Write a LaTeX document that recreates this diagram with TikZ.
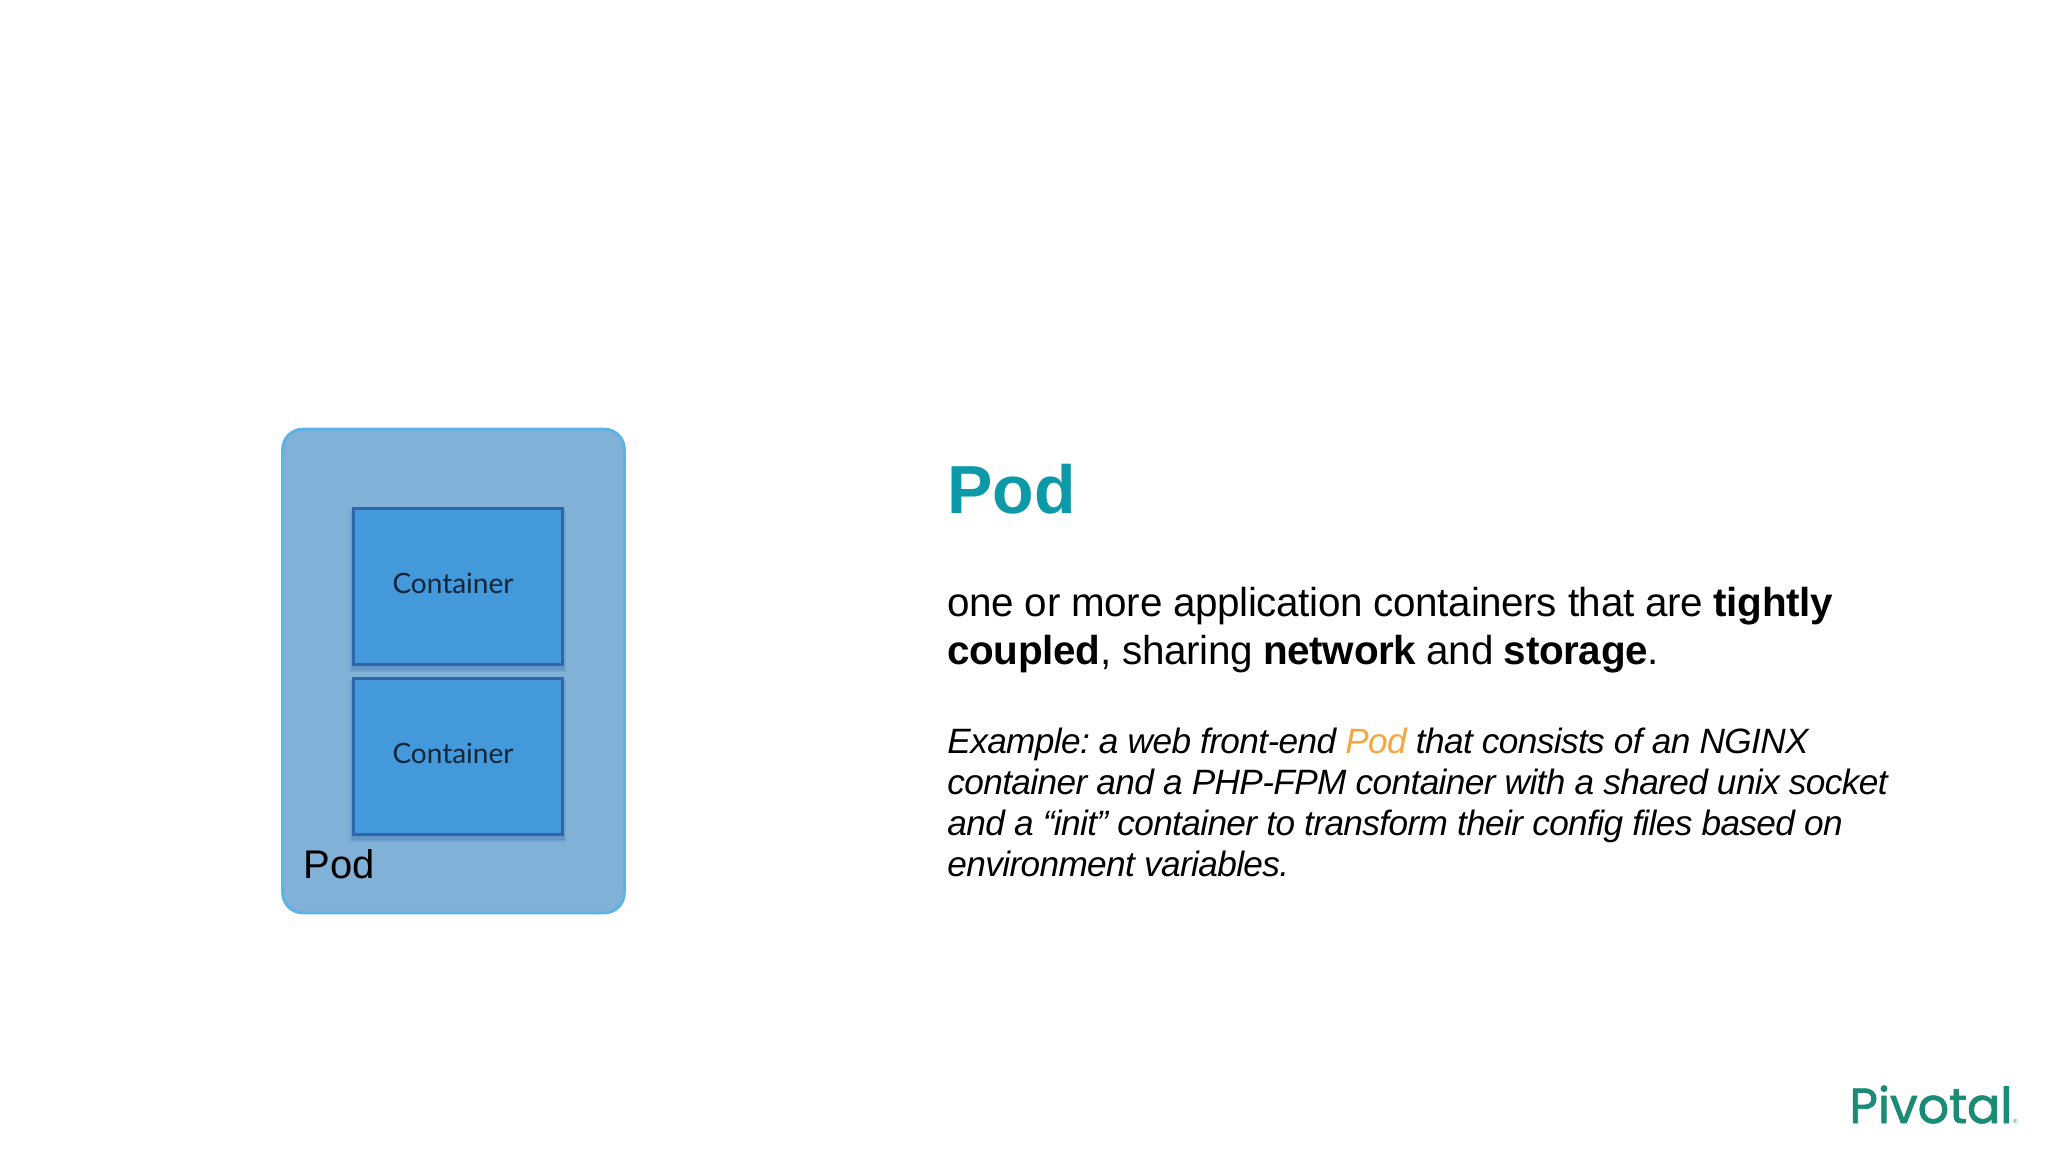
\documentclass[tikz,border=0pt]{standalone}
\usepackage{fontspec}
\usepackage{graphicx}
\setmainfont{Liberation Sans}
\newfontfamily\lblfont{Lato}
\newfontfamily\logofont[FakeBold=1.6]{Poppins}
\newfontfamily\bodyfont[LetterSpace=-0.85]{Liberation Sans}
\newfontfamily\examplefont[LetterSpace=-1.75]{Liberation Sans}
\definecolor{podfill}{HTML}{82B1D8}
\definecolor{podline}{HTML}{5BB4E5}
\definecolor{boxfill}{HTML}{4499DA}
\definecolor{boxline}{HTML}{2F66AB}
\definecolor{boxtext}{HTML}{12263A}
\definecolor{titleteal}{HTML}{0C9AA8}
\definecolor{podorange}{HTML}{F5A63C}
\definecolor{logogreen}{HTML}{1A8B74}
\tikzset{
  x=0.5pt,y=-0.5pt,
  podbox/.style={draw=podline,line width=1.5pt,fill=podfill,rounded corners=10pt,minimum width=170.8pt,minimum height=241.8pt,inner sep=0pt},
  ctrbox/.style={draw=boxline,line width=1.5pt,fill=boxfill,minimum width=104.5pt,minimum height=78pt,inner sep=0pt},
  ctrshadow/.style={fill=boxline,fill opacity=.2,minimum width=108pt,minimum height=81pt,inner sep=0pt},
  ctrlabel/.style={inner sep=0pt,text=boxtext,font=\lblfont\fontsize{14}{17}\selectfont},
  linetext/.style={anchor=base west,inner sep=0pt,text=black},
  bodytext/.style={linetext,font=\bodyfont\fontsize{20.2}{24}\selectfont},
  exampletext/.style={linetext,font=\examplefont\itshape\fontsize{17.6}{21}\selectfont},
}
\begin{document}
\begin{tikzpicture}
\frenchspacing
\useasboundingbox (0,0) rectangle (2048,1152);
\node[podbox] (pod) at (453.5,671) {};
\node[ctrshadow] (s1) at (457.5,591) {};
\node[ctrshadow] (s2) at (457.5,761) {};
\node[ctrshadow,minimum width=106pt] (s1b) at (457.5,589) {};
\node[ctrshadow,minimum width=106pt] (s2b) at (457.5,759) {};
\node[ctrbox] (c1) at (457.5,586) {};
\node[ctrbox] (c2) at (457.5,756) {};
\node[ctrlabel] (l1) at (453,583.5) {Container};
\node[ctrlabel] (l2) at (453,753.5) {Container};
\node[linetext,font=\fontsize{20}{24}\selectfont] (podlabel) at (303,878) {Pod};
\node[linetext,text=titleteal,font=\bfseries\fontsize{34}{40}\selectfont] (title) at (947,513) {Pod};
\node[bodytext] (b1) at (947,616) {one or more application containers that are \textbf{tightly}};
\node[bodytext] (b2) at (947,664) {\textbf{coupled}, sharing \textbf{network} and \textbf{storage}.};
\node[exampletext] (e1) at (947,753) {Example: a web front-end \textcolor{podorange}{Pod} that consists of an NGINX};
\node[exampletext] (e2) at (947,794) {container and a PHP-FPM container with a shared unix socket};
\node[exampletext] (e3) at (947,835) {and a “init” container to transform their config files based on};
\node[exampletext] (e4) at (947,876) {environment variables.};
\node[anchor=base west,inner sep=0pt,text=logogreen] (logo) at (1849,1123) {\resizebox{81.5pt}{!}{\logofont\fontsize{24}{28}\selectfont Pivotal}};
\node[anchor=base west,inner sep=0pt,text=logogreen,font=\fontsize{3}{4}\selectfont] (logomark) at (logo.base east) {®};
\end{tikzpicture}
\end{document}
